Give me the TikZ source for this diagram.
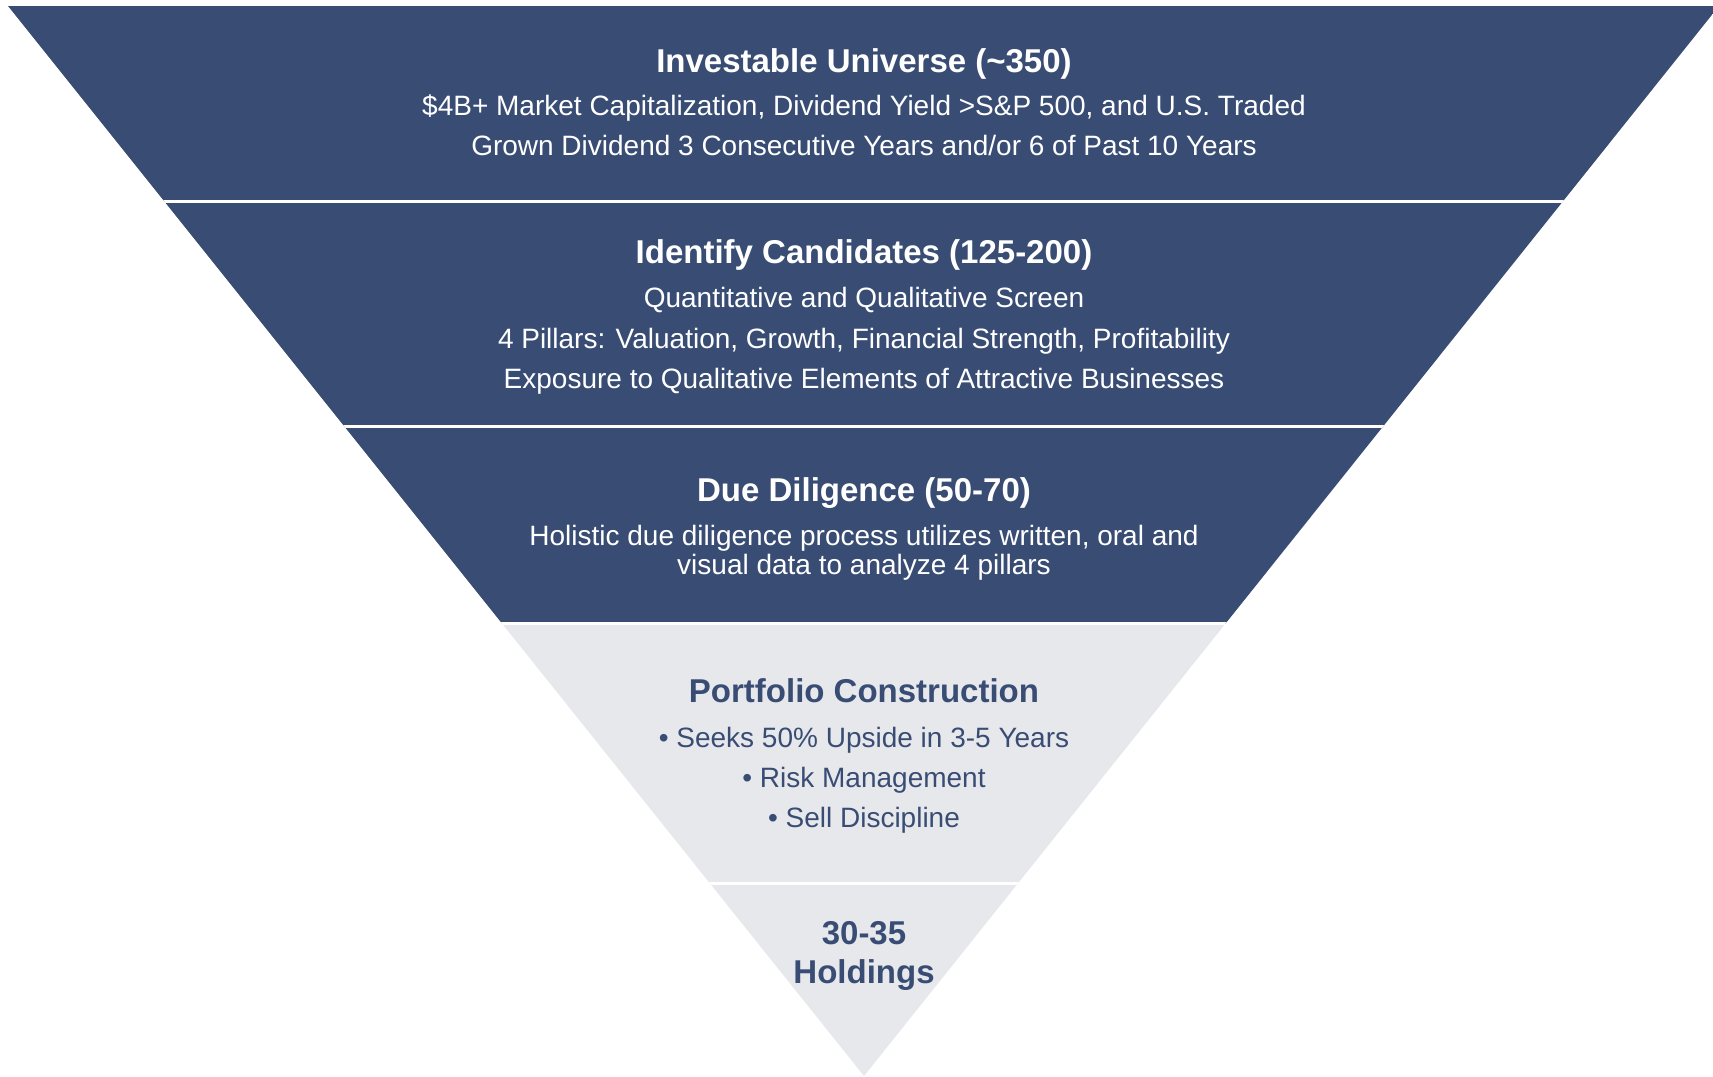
\documentclass[tikz,border=0pt]{standalone}
\usepackage{fontspec}
\setmainfont{Liberation Sans}
\definecolor{funnelnavy}{RGB}{57,77,116}
\definecolor{funnelgray}{RGB}{231,232,236}
\begin{document}
\begin{tikzpicture}[x=1pt,y=-1pt,
  ttl/.style={font=\fontsize{33}{38}\selectfont\bfseries, anchor=base, inner sep=0pt},
  bdy/.style={font=\fontsize{28}{28}\selectfont, anchor=base, inner sep=0pt},
  onnavy/.style={text=white},
  ongray/.style={text=funnelnavy},
  gapline/.style={white, line width=3pt}]
\useasboundingbox (0,0) rectangle (1713,1076);
\begin{scope}
  \clip (8,6) -- (1719,6) -- (864,1076) -- cycle;
  \fill[funnelnavy] (0,6) rectangle (1720,623.5);
  \fill[funnelgray] (0,623.5) rectangle (1720,1080);
  \draw[gapline] (0,201.5) -- (1720,201.5);
  \draw[gapline] (0,426.5) -- (1720,426.5);
  \draw[gapline] (0,623.5) -- (1720,623.5);
  \draw[gapline] (0,883.5) -- (1720,883.5);
\end{scope}
% band 1
\node[ttl,onnavy] (t1) at (864,72) {Investable Universe (\char"007E 350)};
\node[bdy,onnavy] (b1a) at (864,115) {\$4B+ Market Capitalization, Dividend Yield >S\&P 500, and U.S. Traded};
\node[bdy,onnavy] (b1b) at (864,155) {Grown Dividend 3 Consecutive Years and/or 6 of Past 10 Years};
% band 2
\node[ttl,onnavy] (t2) at (864,263) {Identify Candidates (125-200)};
\node[bdy,onnavy] (b2a) at (864,307) {Quantitative and Qualitative Screen};
\node[bdy,onnavy] (b2b) at (864,348) {4 Pillars: Valuation, Growth, Financial Strength, Profitability};
\node[bdy,onnavy] (b2c) at (864,388) {Exposure to Qualitative Elements of Attractive Businesses};
% band 3
\node[ttl,onnavy] (t3) at (864,501) {Due Diligence (50-70)};
\node[bdy,onnavy] (b3a) at (864,545) {Holistic due diligence process utilizes written, oral and};
\node[bdy,onnavy] (b3b) at (864,574) {visual data to analyze 4 pillars};
% band 4
\node[ttl,ongray] (t4) at (864,702) {Portfolio Construction};
\node[bdy,ongray] (b4a) at (864,747) {• Seeks 50\% Upside in 3-5 Years};
\node[bdy,ongray] (b4b) at (864,787) {• Risk Management};
\node[bdy,ongray] (b4c) at (864,827) {• Sell Discipline};
% band 5
\node[ttl,ongray] (t5a) at (864,944) {30-35};
\node[ttl,ongray] (t5b) at (864,983) {Holdings};
\end{tikzpicture}
\end{document}
